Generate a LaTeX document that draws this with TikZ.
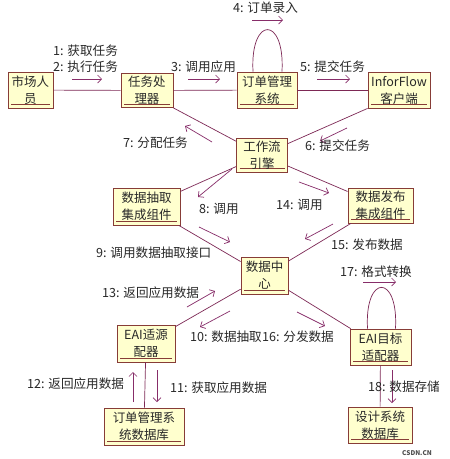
\documentclass[tikz,border=0pt]{standalone}
\usepackage{fontspec}
\setmainfont{Noto Sans CJK SC}
\usetikzlibrary{arrows.meta}
\definecolor{boxfill}{RGB}{255,255,206}
\definecolor{boxline}{RGB}{135,60,55}
\definecolor{connc}{RGB}{125,40,85}
\definecolor{msgc}{RGB}{135,45,105}
\definecolor{textc}{RGB}{40,40,40}
\newcommand\msgarrow[3]{\coordinate (#1s) at (#2); \coordinate (#1e) at (#3); \draw[msg] (#1s) -- (#1e);}
\begin{document}
\begin{tikzpicture}[x=1pt,y=-1pt,
  obj/.style={draw=boxline, fill=boxfill, line width=0.8pt, align=center, inner sep=1pt,
    text=textc, font=\fontsize{12.5}{17}\selectfont,
    path picture={\draw[boxline, line width=0.7pt]
      ([xshift=3pt,yshift=3.5pt]path picture bounding box.south west) --
      ([xshift=-3pt,yshift=3.5pt]path picture bounding box.south east);}},
  conn/.style={draw=connc, line width=0.7pt},
  msg/.style={draw=msgc, line width=0.7pt, -{Straight Barb[length=4pt,width=8pt]}},
  lbl/.style={anchor=west, inner sep=0pt, text=textc, font=\fontsize{12.6}{14}\selectfont}]
\useasboundingbox (0,0) rectangle (450,459);
\fill[white] (0,0) rectangle (450,459);

% objects
\node[obj, minimum width=45pt, minimum height=36pt] (scry) at (30.5,90) {市场人\\员};
\node[obj, minimum width=52pt, minimum height=34pt] (rwcl) at (147,90.5) {任务处\\理器};
\node[obj, minimum width=60pt, minimum height=36pt] (ddgl) at (267,90) {订单管理\\系统};
\node[obj, minimum width=62pt, minimum height=36pt] (infr) at (399,90) {InforFlow\\客户端};
\node[obj, minimum width=51pt, minimum height=34pt] (gzl) at (262,155) {工作流\\引擎};
\node[obj, minimum width=67pt, minimum height=37pt] (sjcq) at (146.5,206.5) {数据抽取\\集成组件};
\node[obj, minimum width=65pt, minimum height=35pt] (sjfb) at (380.5,205.5) {数据发布\\集成组件};
\node[obj, minimum width=47pt, minimum height=37pt] (sjzx) at (264.5,275.5) {数据中\\心};
\node[obj, minimum width=58pt, minimum height=37pt] (eaiy) at (146,343.5) {EAI适源\\配器};
\node[obj, minimum width=61pt, minimum height=36pt] (eaim) at (380.5,347) {EAI目标\\适配器};
\node[obj, minimum width=80pt, minimum height=37pt] (ddsj) at (144,426.5) {订单管理系\\统数据库};
\node[obj, minimum width=64pt, minimum height=36pt] (sjsj) at (380,425) {设计系统\\数据库};

% connectors
\draw[conn] (scry) -- (rwcl);
\draw[conn] (rwcl) -- (ddgl);
\draw[conn] (ddgl) -- (infr);
\draw[conn] ([xshift=-14pt]ddgl.north) .. controls +(-3,-56) and +(3,-56) .. ([xshift=15pt]ddgl.north);
\draw[conn] (rwcl.south east) -- (gzl);
\draw[conn] (infr.south west) -- (gzl);
\draw[conn] (gzl) -- (sjcq);
\draw[conn] (gzl) -- (sjfb);
\draw[conn] (sjcq) -- (sjzx);
\draw[conn] (sjfb) -- (sjzx);
\draw[conn] (sjzx) -- (eaiy);
\draw[conn] (sjzx) -- (eaim);
\draw[conn] (eaiy) -- (ddsj);
\draw[conn] ([xshift=-13pt]eaim.north) .. controls +(-3,-55) and +(3,-55) .. ([xshift=15pt]eaim.north);
\draw[conn] (eaim) -- (sjsj);

% messages
\msgarrow{m1}{72,79}{102,79}
\msgarrow{m3}{188,79}{220,79}
\msgarrow{m4}{252,20}{283,20}
\msgarrow{m5}{317,79}{350,79}
\msgarrow{m6}{347,128}{320,141}
\msgarrow{m7}{212,142}{185,126}
\msgarrow{m8}{232,169}{198,197}
\msgarrow{m14}{299,182}{329,193}
\msgarrow{m9}{199,227}{230,242}
\msgarrow{m15}{333,224}{305,239}
\msgarrow{m13}{187,307}{215,291}
\msgarrow{m10}{230,311}{200,327}
\msgarrow{m16}{297,312}{325,326}
\msgarrow{m17}{363,282}{396,282}
\msgarrow{m12}{133,402}{133,372}
\msgarrow{m11}{157,370}{157,402}
\msgarrow{m18}{392,370}{392,403}

% labels
\node[lbl] (l1) at (53,51) {1: 获取任务};
\node[lbl] (l2) at (53,67) {2: 执行任务};
\node[lbl] (l3) at (171,67) {3: 调用应用};
\node[lbl] (l4) at (233,8) {4: 订单录入};
\node[lbl] (l5) at (300,67) {5: 提交任务};
\node[lbl] (l6) at (305,146) {6: 提交任务};
\node[lbl] (l7) at (123,143) {7: 分配任务};
\node[lbl] (l8) at (199,209) {8: 调用};
\node[lbl] (l14) at (276,205) {14: 调用};
\node[lbl] (l9) at (96,253) {9: 调用数据抽取接口};
\node[lbl] (l15) at (331,245) {15: 发布数据};
\node[lbl] (l13) at (102,293) {13: 返回应用数据};
\node[lbl] (l10) at (190,337) {10: 数据抽取};
\node[lbl] (l16) at (262,337) {16: 分发数据};
\node[lbl] (l17) at (340,272) {17: 格式转换};
\node[lbl] (l12) at (27,384) {12: 返回应用数据};
\node[lbl] (l11) at (170,388) {11: 获取应用数据};
\node[lbl] (l18) at (368,387) {18: 数据存储};
\node[anchor=east, inner sep=0pt, text=black!70, font=\fontsize{6.5}{7}\bfseries\selectfont] (wm) at (432,453) {CSDN.CN};
\end{tikzpicture}
\end{document}
